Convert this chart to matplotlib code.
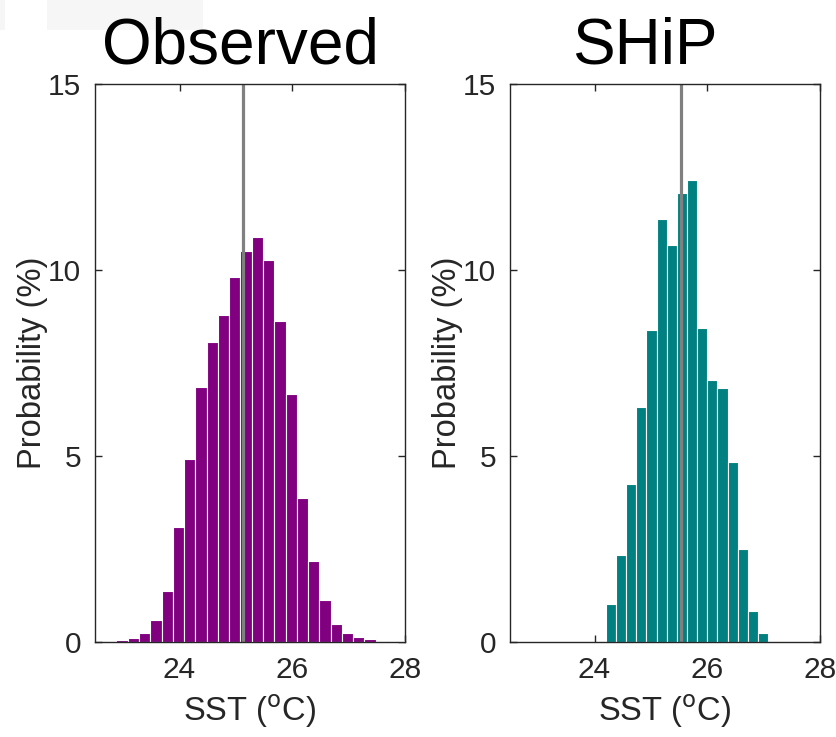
import matplotlib
matplotlib.use("Agg")
import matplotlib.pyplot as plt
from matplotlib.patches import Rectangle

plt.rcParams['font.family'] = ['Liberation Sans', 'DejaVu Sans']

# ---- data ----
obs_centers = [22.78, 22.98, 23.18, 23.38, 23.58, 23.78, 23.98, 24.18, 24.38,
               24.58, 24.78, 24.98, 25.18, 25.38, 25.58, 25.78, 25.98, 26.18,
               26.38, 26.58, 26.78, 26.98, 27.18, 27.38, 27.58, 27.78, 27.98]
obs_prob = [0.03, 0.05, 0.12, 0.25, 0.60, 1.38, 3.10, 4.92, 6.85, 8.07, 8.78,
            9.80, 10.50, 10.89, 10.26, 8.63, 6.67, 3.88, 2.17, 1.12, 0.48,
            0.23, 0.13, 0.07, 0.03, 0.01, 0.04]
obs_width = 0.2
obs_mean = 25.13

ship_centers = [24.29, 24.47, 24.65, 24.83, 25.01, 25.19, 25.37, 25.55, 25.73,
                25.91, 26.09, 26.27, 26.45, 26.63, 26.81, 26.99]
ship_prob = [1.02, 2.35, 4.25, 6.32, 8.40, 11.38, 10.67, 12.06, 12.41, 8.43,
             7.05, 6.84, 4.84, 2.51, 0.84, 0.23]
ship_width = 0.179
ship_mean = 25.53

titles = ["Observed", "SHiP"]
colors = ["#800080", "#008080"]
xticks = [24, 26, 28]
yticks = [0, 5, 10, 15]

W, H = 837, 737
fig = plt.figure(figsize=(W / 100, H / 100), dpi=100)

# faint screenshot artifacts at top-left
fig.patches.append(Rectangle((0, 1 - 30 / H), 5 / W, 30 / H, transform=fig.transFigure,
                             facecolor="#f6f6f6", edgecolor="none"))
fig.patches.append(Rectangle((47 / W, 1 - 30 / H), 156 / W, 30 / H, transform=fig.transFigure,
                             facecolor="#f6f6f6", edgecolor="none"))

panels = [
    (95, obs_centers, obs_prob, obs_width, obs_mean, 240),
    (510, ship_centers, ship_prob, ship_width, ship_mean, 645),
]
axc = "#262626"
for i, (x0, centers, probs, width, mean, tcx) in enumerate(panels):
    ax = fig.add_axes([x0 / W, 1 - 642 / H, 310 / W, (642 - 84) / H])
    ax.bar(centers, probs, width=width, color=colors[i], edgecolor="white",
           linewidth=0.8, zorder=2)
    ax.axvline(mean, color="#808080", linewidth=2.3, zorder=3)
    ax.set_xlim(22.5, 28)
    ax.set_ylim(0, 15)
    ax.set_xticks(xticks)
    ax.set_yticks(yticks)
    ax.tick_params(direction="in", length=5, width=1, colors=axc, labelcolor=axc,
                   labelsize=21.5, top=True, right=True)
    ax.tick_params(axis="x", pad=10)
    ax.tick_params(axis="y", pad=10)
    for s in ax.spines.values():
        s.set_color(axc)
        s.set_linewidth(1)
        s.set_zorder(4)
    ax.set_xlabel(r"SST ($^{\rm o}$C)", fontsize=23.5, color=axc, labelpad=6)
    ax.set_ylabel("Probability (%)", fontsize=23.5, color=axc)
    ax.yaxis.set_label_coords(-0.152, 0.5)
    fig.text(tcx / W, 1 - 63 / H, titles[i], fontsize=46, color="black",
             ha="center", va="baseline")

fig.savefig("out.png", dpi=100)
